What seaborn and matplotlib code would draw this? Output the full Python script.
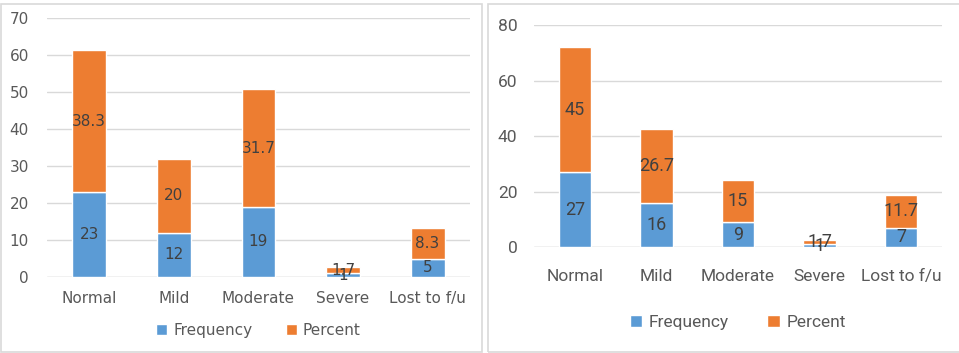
import matplotlib
matplotlib.use("Agg")
import matplotlib.pyplot as plt
import seaborn as sns
import pandas as pd
from matplotlib.patches import Rectangle

categories = ["Normal", "Mild", "Moderate", "Severe", "Lost to f/u"]

# left chart
left_freq = [23, 12, 19, 1, 5]
left_pct = [38.3, 20, 31.7, 1.7, 8.3]
left_freq_labels = ["23", "12", "19", "1", "5"]
left_pct_labels = ["38.3", "20", "31.7", "1.7", "8.3"]
left_yticks = [0, 10, 20, 30, 40, 50, 60, 70]

# right chart
right_freq = [27, 16, 9, 1, 7]
right_pct = [45, 26.7, 15, 1.7, 11.7]
right_freq_labels = ["27", "16", "9", "1", "7"]
right_pct_labels = ["45", "26.7", "15", "1.7", "11.7"]
right_yticks = [0, 20, 40, 60, 80]

BLUE = "#5B9BD5"
ORANGE = "#ED7D31"
GRID = "#D9D9D9"
TXT = "#595959"
LBL = "#404040"

sns.set_style("white")
plt.rcParams["font.family"] = ["DejaVu Sans"]

fig = plt.figure(figsize=(9.59, 3.53), dpi=100)

# panel borders
fig.patches.append(Rectangle((0.001, 0.003), 0.502, 0.987, transform=fig.transFigure,
                             fill=False, edgecolor=GRID, lw=1.2))
fig.patches.append(Rectangle((0.509, 0.003), 0.5, 0.987, transform=fig.transFigure,
                             fill=False, edgecolor=GRID, lw=1.2))


def draw(ax, freq, pct, flabels, plabels, yticks, fam, fs_tick, fs_val, fs_leg,
         legend_y, ypad, xpad):
    df = pd.DataFrame({"cat": categories, "freq": freq, "pct": pct})
    sns.barplot(data=df, x="cat", y="freq", color=BLUE, width=0.4, saturation=1,
                ax=ax, label="Frequency")
    sns.barplot(data=df, x="cat", y="pct", color=ORANGE, width=0.4, saturation=1,
                bottom=df["freq"].values, ax=ax, label="Percent")
    ax.bar_label(ax.containers[0], labels=flabels, label_type="center",
                 color=LBL, fontsize=fs_val, family=fam)
    ax.bar_label(ax.containers[1], labels=plabels, label_type="center",
                 color=LBL, fontsize=fs_val, family=fam)
    ax.set_ylim(0, yticks[-1])
    ax.set_yticks(yticks)
    ax.set_xlim(-0.5, 4.5)
    ax.yaxis.grid(True, color=GRID, lw=1)
    ax.set_axisbelow(True)
    sns.despine(ax=ax, left=True, bottom=True)
    ax.axhline(0, color=GRID, lw=1, zorder=0.5)
    ax.set_xlabel("")
    ax.set_ylabel("")
    ax.tick_params(length=0, labelcolor=TXT, labelsize=fs_tick)
    ax.tick_params(axis="y", pad=ypad)
    ax.tick_params(axis="x", pad=xpad)
    for t in ax.get_xticklabels() + ax.get_yticklabels():
        t.set_family(fam)
    ax.legend(loc="center", bbox_to_anchor=(0.5, legend_y), ncol=2, frameon=False,
              handlelength=0.7, handleheight=0.7, handletextpad=0.4, columnspacing=2.2,
              prop={"family": fam, "size": fs_leg}, labelcolor=TXT)


ax1 = fig.add_axes([0.049, 0.215, 0.441, 0.734])
draw(ax1, left_freq, left_pct, left_freq_labels, left_pct_labels, left_yticks,
     ["DejaVu Sans"], 11, 11, 11, -0.205, 13, 10)

ax2 = fig.add_axes([0.557, 0.300, 0.425, 0.629])
draw(ax2, right_freq, right_pct, right_freq_labels, right_pct_labels, right_yticks,
     ["Roboto", "DejaVu Sans"], 12.5, 13, 12.5, -0.34, 12, 16)

fig.savefig("out.png", dpi=100)
